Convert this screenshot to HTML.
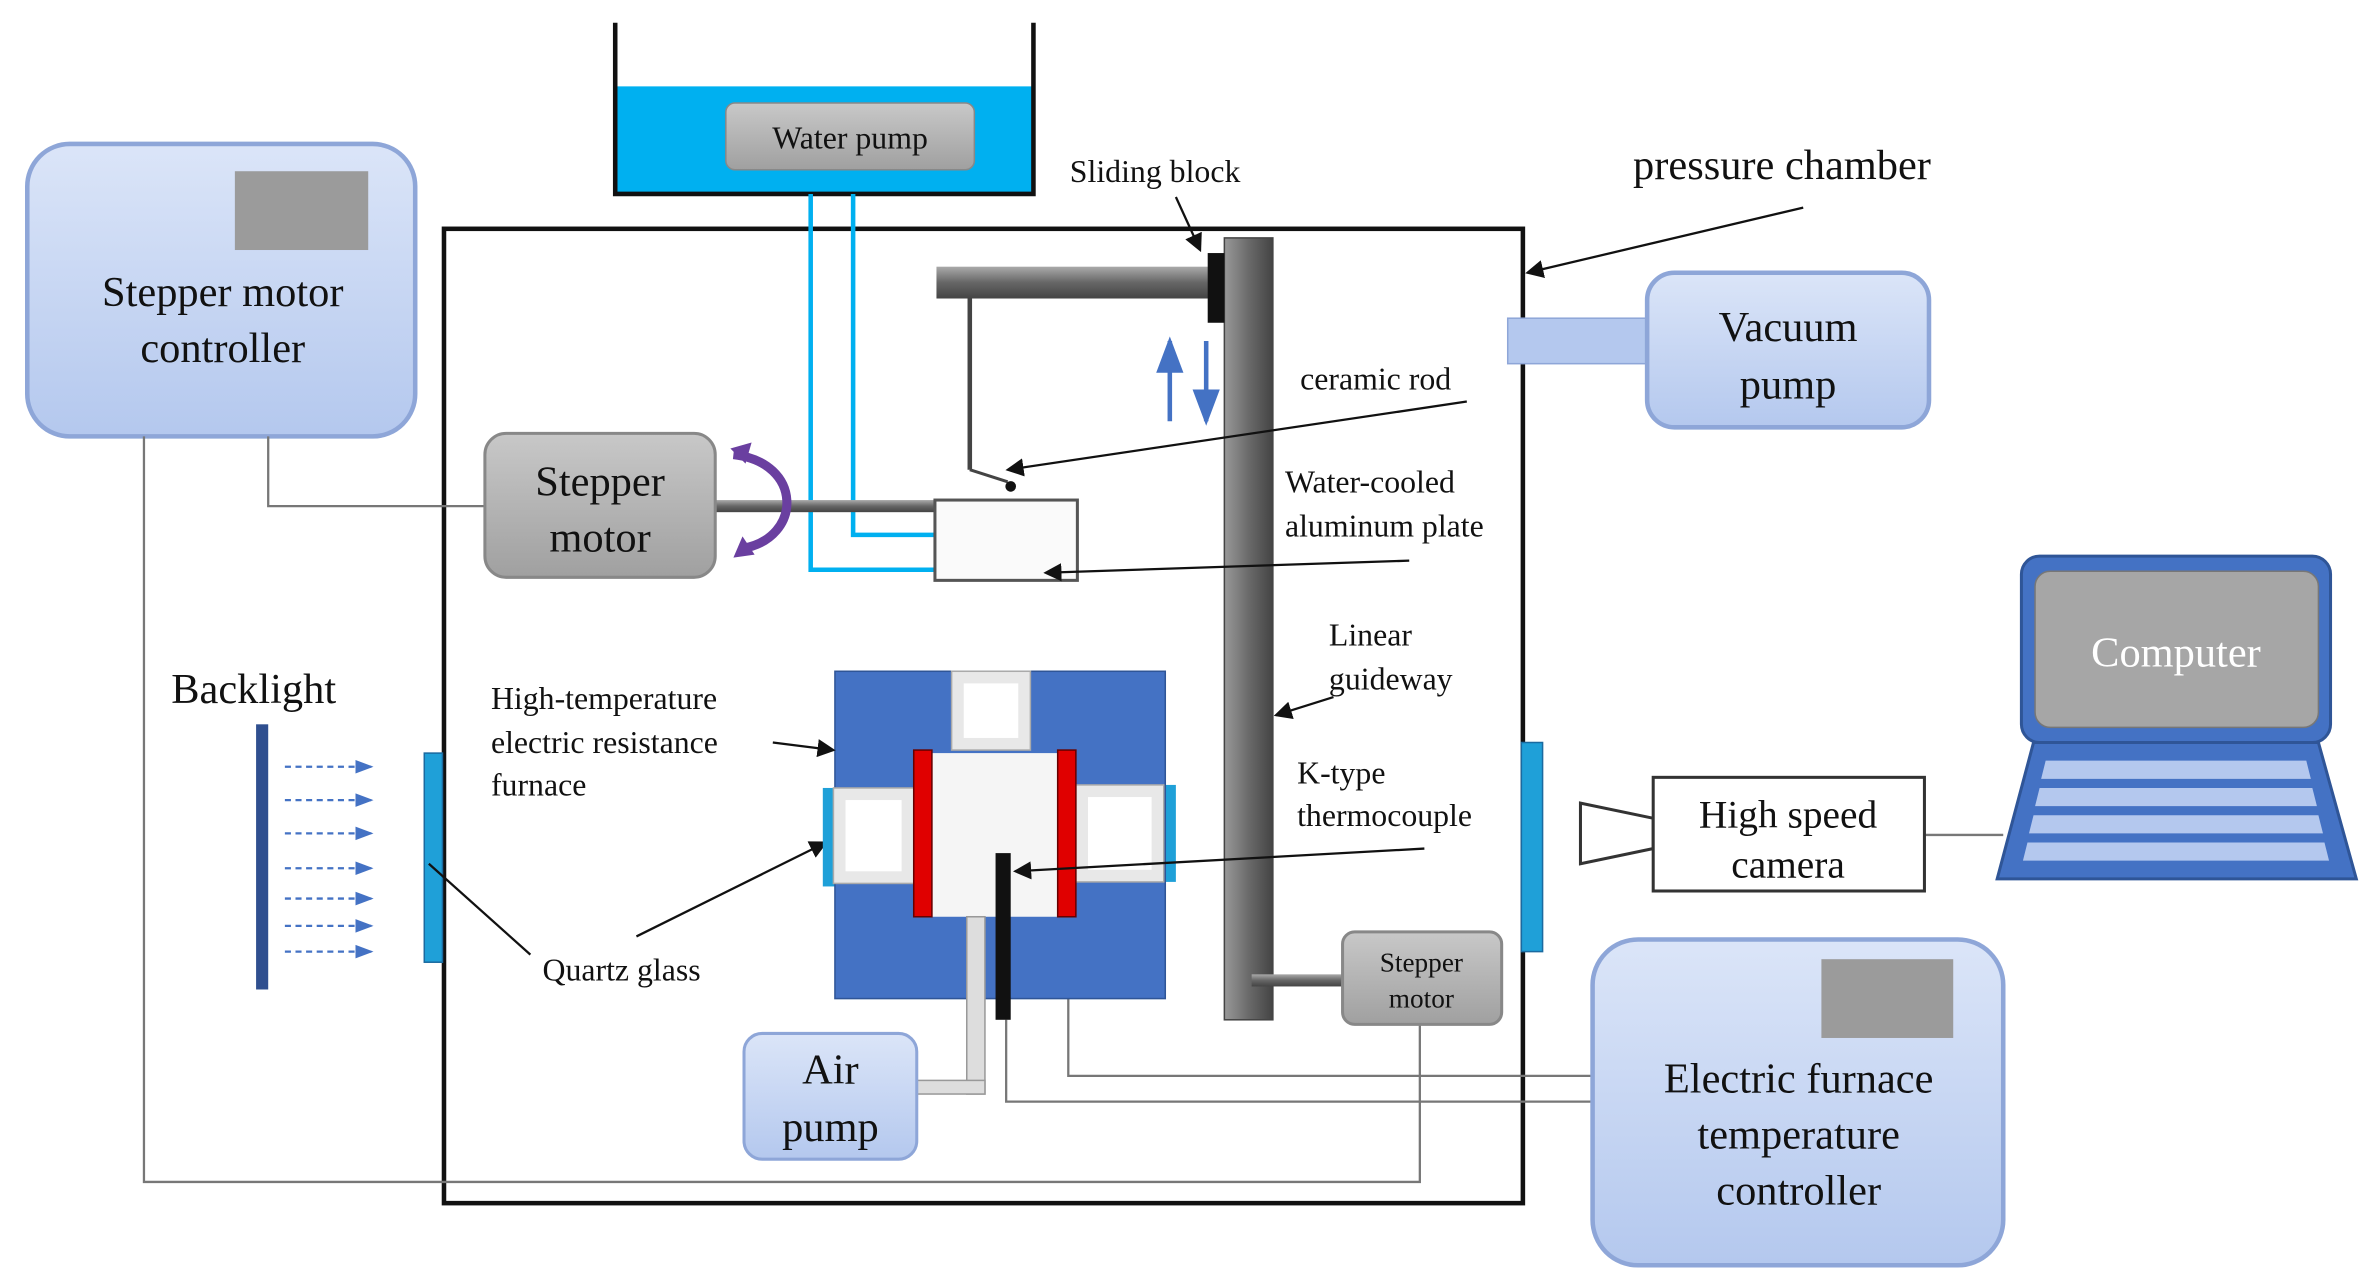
<!DOCTYPE html>
<html><head><meta charset="utf-8"><style>
html,body{margin:0;padding:0;background:#fff}
svg{display:block}
text{font-family:"Liberation Serif",serif;fill:#111}
</style></head><body>
<svg width="2376" height="1288" viewBox="0 0 1568 850" preserveAspectRatio="none" xmlns="http://www.w3.org/2000/svg">
<defs>
<linearGradient id="gb" x1="0" y1="0" x2="0" y2="1"><stop offset="0" stop-color="#dbe5f8"/><stop offset="1" stop-color="#b4c8ee"/></linearGradient>
<linearGradient id="gg" x1="0" y1="0" x2="0" y2="1"><stop offset="0" stop-color="#c8c8c8"/><stop offset="1" stop-color="#a0a0a0"/></linearGradient>
<linearGradient id="rod" x1="0" y1="0" x2="0" y2="1"><stop offset="0" stop-color="#aaa"/><stop offset="0.5" stop-color="#666"/><stop offset="1" stop-color="#444"/></linearGradient>
<linearGradient id="vrod" x1="0" y1="0" x2="1" y2="0"><stop offset="0" stop-color="#999"/><stop offset="0.5" stop-color="#6a6a6a"/><stop offset="1" stop-color="#444"/></linearGradient>
<marker id="ar" markerWidth="8" markerHeight="8" refX="7" refY="4" orient="auto"><path d="M0,0 L8,4 L0,8 z" fill="#111"/></marker>
<marker id="ab" markerWidth="8" markerHeight="8" refX="7" refY="4" orient="auto"><path d="M0,1 L8,4 L0,7 z" fill="#4472c4"/></marker>
</defs>

<!-- water tank -->
<rect x="406" y="57" width="276" height="71" fill="#00b0f0"/>
<path d="M406,15 V128 H682 V15" fill="none" stroke="#111" stroke-width="3"/>
<rect x="479" y="68" width="164" height="44" rx="6" fill="url(#gg)" stroke="#888"/>
<text x="561" y="98" font-size="21" text-anchor="middle">Water pump</text>

<!-- chamber -->
<rect x="293" y="151" width="712" height="643" fill="none" stroke="#111" stroke-width="3"/>

<!-- stepper motor controller -->
<rect x="18" y="95" width="256" height="193" rx="28" fill="url(#gb)" stroke="#8ea6d8" stroke-width="3"/>
<rect x="155" y="113" width="88" height="52" fill="#9b9b9b"/>
<text x="147" y="202" font-size="28" text-anchor="middle">Stepper motor</text>
<text x="147" y="239" font-size="28" text-anchor="middle">controller</text>

<!-- wires -->
<path d="M177,288 V334 H320" fill="none" stroke="#777" stroke-width="1.5"/>
<path d="M95,288 V780 H937 V675" fill="none" stroke="#777" stroke-width="1.5"/>
<path d="M705,605 V710 H1051" fill="none" stroke="#777" stroke-width="1.5"/>
<path d="M664,673 V727 H1051" fill="none" stroke="#777" stroke-width="1.5"/>
<line x1="1270" y1="551" x2="1322" y2="551" stroke="#777" stroke-width="1.5"/>

<!-- vacuum pump -->
<rect x="995" y="210" width="92" height="30" fill="#b4c8ee" stroke="#8ea6d8"/>
<rect x="1087" y="180" width="186" height="102" rx="18" fill="url(#gb)" stroke="#8ea6d8" stroke-width="3"/>
<text x="1180" y="225" font-size="28" text-anchor="middle">Vacuum</text>
<text x="1180" y="263" font-size="28" text-anchor="middle">pump</text>
<text x="1176" y="118" font-size="28" text-anchor="middle">pressure chamber</text>
<line x1="1190" y1="137" x2="1008" y2="180" stroke="#111" stroke-width="1.5" marker-end="url(#ar)"/>

<!-- sliding/guideway -->
<rect x="808" y="157" width="32" height="516" fill="url(#vrod)" stroke="#444"/>
<rect x="618" y="176" width="182" height="21" fill="url(#rod)"/>
<rect x="797" y="167" width="11" height="46" fill="#111"/>
<line x1="640" y1="197" x2="640" y2="310" stroke="#444" stroke-width="3"/>
<line x1="640" y1="310" x2="665" y2="318" stroke="#444" stroke-width="2"/>
<circle cx="667" cy="321" r="3.5" fill="#111"/>
<text x="706" y="120" font-size="21">Sliding block</text>
<line x1="776" y1="130" x2="792" y2="165" stroke="#111" stroke-width="1.5" marker-end="url(#ar)"/>
<text x="858" y="257" font-size="21">ceramic rod</text>
<line x1="968" y1="265" x2="665" y2="310" stroke="#111" stroke-width="1.5" marker-end="url(#ar)"/>
<line x1="772" y1="278" x2="772" y2="225" stroke="#4472c4" stroke-width="3" marker-end="url(#ab)"/>
<line x1="796" y1="225" x2="796" y2="278" stroke="#4472c4" stroke-width="3" marker-end="url(#ab)"/>

<!-- water pipes -->
<path d="M535,128 V376 H617" fill="none" stroke="#00b0f0" stroke-width="3"/>
<path d="M563,128 V353 H617" fill="none" stroke="#00b0f0" stroke-width="3"/>

<!-- stepper motor -->
<rect x="472" y="330" width="146" height="8" fill="url(#rod)"/>
<rect x="320" y="286" width="152" height="95" rx="14" fill="url(#gg)" stroke="#888" stroke-width="2"/>
<text x="396" y="327" font-size="28" text-anchor="middle">Stepper</text>
<text x="396" y="364" font-size="28" text-anchor="middle">motor</text>
<path d="M484,300 C530,305 530,355 490,362" fill="none" stroke="#6a3fa0" stroke-width="6"/>
<path d="M482,296 l14,-4 l-4,14 z" fill="#6a3fa0"/>
<path d="M484,368 l6,-14 l8,12 z" fill="#6a3fa0"/>
<rect x="617" y="330" width="94" height="53" fill="#fafafa" stroke="#555" stroke-width="2"/>
<text x="848" y="325" font-size="21">Water-cooled</text>
<text x="848" y="354" font-size="21">aluminum plate</text>
<line x1="930" y1="370" x2="690" y2="378" stroke="#111" stroke-width="1.5" marker-end="url(#ar)"/>

<!-- backlight -->
<text x="113" y="464" font-size="28">Backlight</text>
<rect x="169" y="478" width="8" height="175" fill="#2f4f8f"/>
<g stroke="#4472c4" stroke-width="1.5" stroke-dasharray="4,3">
<line x1="188" y1="506" x2="245" y2="506" marker-end="url(#ab)"/>
<line x1="188" y1="528" x2="245" y2="528" marker-end="url(#ab)"/>
<line x1="188" y1="550" x2="245" y2="550" marker-end="url(#ab)"/>
<line x1="188" y1="573" x2="245" y2="573" marker-end="url(#ab)"/>
<line x1="188" y1="593" x2="245" y2="593" marker-end="url(#ab)"/>
<line x1="188" y1="611" x2="245" y2="611" marker-end="url(#ab)"/>
<line x1="188" y1="628" x2="245" y2="628" marker-end="url(#ab)"/>
</g>
<rect x="280" y="497" width="12" height="138" fill="#1fa0d8" stroke="#1a6aa0"/>
<rect x="1004" y="490" width="14" height="138" fill="#1fa0d8" stroke="#1a6aa0"/>
<text x="358" y="647" font-size="21">Quartz glass</text>
<line x1="350" y1="630" x2="283" y2="570" stroke="#111" stroke-width="1.5"/>
<line x1="420" y1="618" x2="545" y2="556" stroke="#111" stroke-width="1.5" marker-end="url(#ar)"/>

<!-- furnace -->
<rect x="543" y="520" width="8" height="65" fill="#1fa0d8"/>
<rect x="769" y="518" width="7" height="64" fill="#1fa0d8"/>
<rect x="551" y="443" width="218" height="216" fill="#4472c4" stroke="#2f5597"/>
<rect x="628" y="443" width="52" height="52" fill="#e8e8e8" stroke="#aaa"/>
<rect x="636" y="451" width="36" height="36" fill="#fff"/>
<rect x="550" y="520" width="53" height="63" fill="#e8e8e8" stroke="#aaa"/>
<rect x="558" y="528" width="37" height="47" fill="#fff"/>
<rect x="710" y="518" width="58" height="64" fill="#e8e8e8" stroke="#aaa"/>
<rect x="718" y="526" width="42" height="48" fill="#fff"/>
<rect x="613" y="497" width="92" height="108" fill="#f5f5f5"/>
<rect x="603" y="495" width="12" height="110" fill="#e00000" stroke="#600"/>
<rect x="698" y="495" width="12" height="110" fill="#e00000" stroke="#600"/>
<rect x="638" y="605" width="12" height="117" fill="#ddd" stroke="#999"/>
<rect x="605" y="713" width="45" height="9" fill="#ddd" stroke="#999"/>
<rect x="657" y="563" width="10" height="110" fill="#111"/>
<text x="324" y="468" font-size="21">High-temperature</text>
<text x="324" y="497" font-size="21">electric resistance</text>
<text x="324" y="525" font-size="21">furnace</text>
<line x1="510" y1="490" x2="550" y2="495" stroke="#111" stroke-width="1.5" marker-end="url(#ar)"/>
<text x="877" y="426" font-size="21">Linear</text>
<text x="877" y="455" font-size="21">guideway</text>
<line x1="880" y1="460" x2="842" y2="472" stroke="#111" stroke-width="1.5" marker-end="url(#ar)"/>
<text x="856" y="517" font-size="21">K-type</text>
<text x="856" y="545" font-size="21">thermocouple</text>
<line x1="940" y1="560" x2="670" y2="575" stroke="#111" stroke-width="1.5" marker-end="url(#ar)"/>

<!-- air pump -->
<rect x="491" y="682" width="114" height="83" rx="12" fill="url(#gb)" stroke="#8ea6d8" stroke-width="2"/>
<text x="548" y="715" font-size="28" text-anchor="middle">Air</text>
<text x="548" y="753" font-size="28" text-anchor="middle">pump</text>

<!-- small stepper -->
<rect x="826" y="643" width="60" height="8" fill="url(#rod)"/>
<rect x="886" y="615" width="105" height="61" rx="8" fill="url(#gg)" stroke="#888" stroke-width="2"/>
<text x="938" y="641" font-size="18" text-anchor="middle">Stepper</text>
<text x="938" y="665" font-size="18" text-anchor="middle">motor</text>

<!-- camera -->
<path d="M1043,530 L1091,540 L1091,560 L1043,570 Z" fill="#fff" stroke="#333" stroke-width="2"/>
<rect x="1091" y="513" width="179" height="75" fill="#fff" stroke="#333" stroke-width="2"/>
<text x="1180" y="546" font-size="26" text-anchor="middle">High speed</text>
<text x="1180" y="579" font-size="26" text-anchor="middle">camera</text>

<!-- computer -->
<rect x="1334" y="367" width="204" height="123" rx="12" fill="#4472c4" stroke="#2f5597" stroke-width="2"/>
<rect x="1343" y="377" width="187" height="103" rx="10" fill="#a6a6a6" stroke="#777"/>
<text x="1436" y="440" font-size="28" text-anchor="middle" style="fill:#fff">Computer</text>
<path d="M1342,490 L1530,490 L1555,580 L1318,580 Z" fill="#4472c4" stroke="#2f5597" stroke-width="2"/>
<g fill="#b4c8ee">
<path d="M1350,502 L1522,502 L1525,514 L1347,514 Z"/>
<path d="M1346,520 L1526,520 L1529,532 L1343,532 Z"/>
<path d="M1342,538 L1530,538 L1533,550 L1339,550 Z"/>
<path d="M1338,556 L1534,556 L1537,568 L1335,568 Z"/>
</g>

<!-- furnace controller -->
<rect x="1051" y="620" width="271" height="215" rx="30" fill="url(#gb)" stroke="#8ea6d8" stroke-width="3"/>
<rect x="1202" y="633" width="87" height="52" fill="#9b9b9b"/>
<text x="1187" y="721" font-size="28" text-anchor="middle">Electric furnace</text>
<text x="1187" y="758" font-size="28" text-anchor="middle">temperature</text>
<text x="1187" y="795" font-size="28" text-anchor="middle">controller</text>
</svg>
</body></html>
